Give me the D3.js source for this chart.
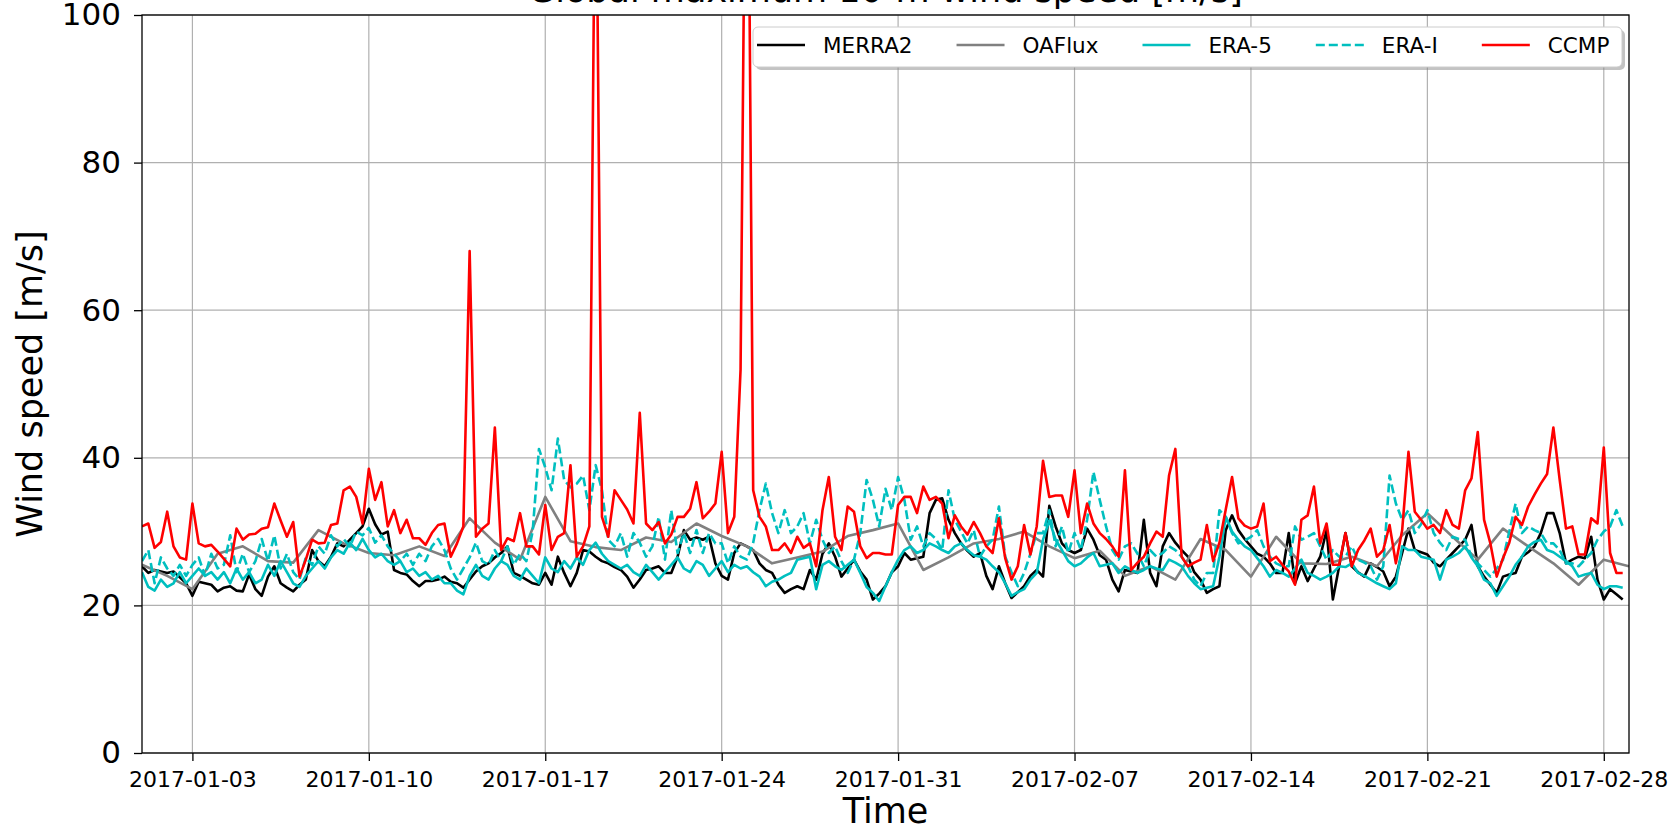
<!DOCTYPE html>
<html>
<head>
<meta charset="utf-8">
<script src="https://cdn.jsdelivr.net/npm/d3@7"></script>
<style>
  body { margin: 0; background: #fff; }
  text { font-family: "DejaVu Sans", sans-serif; fill: #000; }
</style>
</head>
<body>
<script>
// 6-hourly series, starting 2017-01-01 00:00 UTC (one row = one day)
const merra2 = [
  25.3, 24.4, 24.8, 24.6,  24.4, 24.6, 23.8, 23.0,  21.3, 23.2, 23.0, 22.8,  21.9, 22.4, 22.6, 22.0,
  21.9, 24.2, 22.2, 21.3,  23.9, 25.3, 23.0, 22.4,  21.9, 22.8, 23.5, 27.5,  26.0, 25.3, 26.6, 28.4,
  28.0, 28.9, 29.8, 30.7,  33.1, 31.0, 29.6, 30.0,  24.8, 24.4, 24.2, 23.3,  22.6, 23.3, 23.3, 23.5,
  23.9, 23.2, 23.0, 22.4,  23.5, 24.6, 25.3, 25.7,  26.5, 27.1, 28.0, 24.4,  24.0, 23.5, 23.0, 22.8,
  24.4, 22.8, 26.6, 24.4,  22.6, 24.4, 27.5, 27.3,  26.6, 26.0, 25.7, 25.2,  24.8, 23.9, 22.4, 23.5,
  24.8, 25.0, 25.3, 24.4,  24.4, 26.6, 30.2, 28.9,  29.2, 28.9, 29.3, 25.7,  24.0, 23.5, 27.1, 28.4,
  28.0, 27.5, 25.7, 24.8,  24.4, 22.8, 21.7, 22.2,  22.6, 22.2, 24.8, 23.5,  27.0, 28.4, 26.6, 23.9,
  25.0, 26.2, 24.6, 23.5,  20.8, 21.6, 22.6, 24.5,  25.3, 27.1, 26.2, 26.4,  26.6, 32.5, 34.3, 34.5,
  31.6, 29.8, 28.4, 27.4,  26.6, 27.1, 24.0, 22.2,  25.3, 23.0, 21.0, 21.8,  22.6, 24.0, 24.8, 23.9,
  33.5, 30.7, 28.4, 27.5,  27.1, 27.5, 30.4, 28.9,  26.8, 26.2, 23.5, 21.9,  24.8, 24.6, 24.4, 31.6,
  24.4, 22.6, 28.0, 29.8,  28.5, 27.5, 26.6, 24.5,  23.5, 21.7, 22.2, 22.6,  30.2, 32.2, 30.2, 29.0,
  28.0, 27.0, 26.6, 25.7,  24.4, 24.4, 29.8, 23.0,  25.3, 23.3, 25.0, 26.6,  30.2, 20.8, 25.3, 29.8,
  25.3, 24.5, 23.9, 25.7,  25.2, 24.6, 22.6, 23.9,  27.1, 30.4, 27.5, 27.2,  26.9, 25.8, 25.3, 26.2,
  27.1, 28.0, 28.9, 30.9,  25.3, 23.9, 22.8, 21.7,  23.9, 24.2, 24.4, 26.6,  27.2, 28.0, 29.8, 32.5,
  32.5, 29.8, 25.7, 26.2,  26.6, 26.4, 29.3, 23.5,  20.8, 22.2, 21.5, 20.8
];

const era5 = [
  24.5, 22.5, 22.0, 23.5,  22.5, 23.0, 24.5, 23.0,  24.0, 25.0, 24.0, 24.5,  23.5, 24.5, 23.0, 25.0,
  23.5, 24.5, 23.0, 23.5,  25.5, 24.0, 26.0, 24.5,  23.0, 22.5, 24.0, 25.0,  26.0, 25.0, 26.5, 27.5,
  27.0, 28.5, 27.5, 29.0,  27.5, 26.5, 27.0, 26.0,  25.5, 26.0, 24.5, 25.0,  24.0, 24.5, 23.5, 24.0,
  23.0, 23.0, 22.0, 21.5,  24.0, 25.5, 24.0, 23.5,  25.0, 26.0, 25.5, 24.0,  23.5, 25.0, 24.0, 23.0,
  26.5, 25.0, 24.5, 26.0,  25.0, 26.5, 25.5, 27.5,  28.5, 27.0, 26.0, 25.5,  25.0, 25.5, 24.5, 24.0,
  25.5, 24.5, 23.5, 24.5,  25.5, 26.5, 25.0, 24.5,  26.0, 25.5, 24.0, 25.0,  26.0, 24.5, 25.5, 25.0,
  25.3, 24.5, 23.9, 22.6,  23.2, 23.5, 24.0, 24.4,  26.2, 26.4, 26.6, 22.2,  25.5, 26.0, 25.3, 24.8,
  25.5, 26.2, 24.4, 22.5,  21.7, 20.6, 22.6, 24.5,  26.2, 27.5, 28.0, 27.1,  27.5, 28.4, 28.0, 27.5,
  27.1, 28.0, 28.4, 27.5,  26.8, 26.6, 26.2, 25.3,  24.5, 23.0, 21.3, 21.8,  22.2, 23.5, 24.4, 28.9,
  31.5, 28.9, 27.5, 26.0,  25.3, 25.7, 26.5, 27.1,  25.3, 25.5, 25.7, 24.4,  25.3, 24.8, 24.4, 24.8,
  25.3, 25.0, 24.8, 26.2,  25.8, 25.3, 24.0, 23.0,  22.2, 22.4, 22.6, 26.6,  32.0, 30.0, 28.9, 28.0,
  27.5, 26.4, 25.3, 23.9,  24.8, 24.4, 23.9, 25.0,  26.2, 24.4, 24.0, 23.5,  23.9, 24.4, 25.3, 25.2,
  25.7, 24.4, 24.0, 23.5,  23.0, 22.6, 22.2, 23.0,  28.0, 27.5, 27.5, 26.6,  26.4, 26.2, 23.5, 26.2,
  26.6, 27.1, 28.0, 26.5,  25.3, 23.5, 23.0, 21.3,  22.6, 23.9, 25.5, 26.6,  28.0, 28.6, 28.9, 27.5,
  27.2, 26.6, 26.0, 25.3,  23.9, 24.2, 24.4, 22.8,  22.2, 22.6, 22.6, 22.4
];

const eraI = [
  26.0, 27.5, 23.0, 26.5,  25.0, 24.0, 25.5, 24.0,  25.5, 26.5, 24.0, 27.0,  25.0, 25.5, 29.5, 24.5,
  27.0, 24.5, 26.0, 29.0,  26.0, 29.5, 25.0, 27.0,  24.5, 23.5, 26.5, 25.5,  28.0, 27.0, 29.5, 28.0,
  29.0, 28.0, 30.0, 29.5,  30.5, 28.5, 29.5, 28.0,  27.0, 26.0, 27.0, 25.5,  27.0, 26.0, 28.0, 29.0,
  27.5, 25.0, 23.5, 25.0,  26.5, 28.5, 26.0, 25.5,  27.5, 26.0, 28.0, 25.5,  27.0, 26.0, 30.0, 41.2,
  38.7, 35.6, 42.6, 37.0,  36.0, 36.5, 37.6, 32.9,  39.0, 35.6, 28.9, 28.0,  29.8, 26.6, 29.8, 28.5,
  26.6, 28.0, 32.0, 26.2,  32.9, 27.1, 29.8, 27.1,  30.2, 27.1, 29.8, 28.4,  28.4, 25.7, 28.0, 26.6,
  26.2, 28.5, 32.9, 36.5,  32.5, 29.8, 32.9, 29.8,  30.7, 32.5, 28.4, 31.6,  28.9, 27.1, 28.0, 26.0,
  24.4, 26.2, 29.8, 37.0,  34.3, 30.7, 35.8, 32.9,  37.4, 34.3, 28.9, 30.7,  28.0, 29.8, 29.0, 27.5,
  35.6, 31.6, 30.0, 28.4,  30.2, 26.6, 28.0, 28.9,  33.4, 26.6, 24.5, 22.6,  24.4, 27.0, 29.8, 29.8,
  32.9, 28.0, 30.7, 27.1,  29.8, 27.5, 31.6, 38.1,  34.3, 30.7, 27.5, 26.2,  28.0, 28.4, 27.0, 25.3,
  27.5, 26.6, 27.1, 28.0,  27.5, 26.6, 25.3, 23.5,  22.6, 24.4, 24.4, 32.9,  32.0, 29.8, 28.4, 28.8,
  29.3, 30.2, 28.0, 26.6,  25.7, 25.3, 25.3, 30.7,  28.9, 29.3, 29.8, 28.0,  26.2, 27.5, 26.6, 26.6,
  28.0, 26.2, 25.8, 25.3,  23.5, 25.3, 37.6, 33.8,  31.6, 32.9, 29.8, 31.0,  32.9, 29.8, 28.5, 27.5,
  29.3, 29.0, 28.9, 26.6,  25.7, 24.8, 23.9, 25.0,  26.2, 30.0, 33.8, 29.8,  30.7, 30.2, 29.8, 28.4,
  28.4, 27.5, 25.7, 25.7,  25.3, 26.2, 27.1, 28.9,  30.0, 30.7, 32.9, 30.7
];

const ccmp = [
  30.7, 31.1, 27.8, 28.6,  32.7, 28.0, 26.5, 26.2,  33.8, 28.4, 28.0, 28.2,  27.3, 26.3, 25.3, 30.4,
  28.9, 29.6, 29.7, 30.4,  30.6, 33.8, 31.5, 29.3,  31.3, 23.9, 26.2, 28.9,  28.4, 28.5, 30.9, 31.1,
  35.6, 36.1, 34.7, 31.1,  38.5, 34.3, 36.7, 30.7,  32.9, 29.8, 31.6, 29.1,  29.1, 28.2, 29.8, 30.9,
  31.1, 26.6, 28.4, 30.7,  68.0, 29.3, 30.4, 31.1,  44.1, 27.5, 29.1, 28.7,  32.5, 28.0, 28.0, 26.9,
  33.6, 27.5, 29.3, 29.8,  39.0, 26.6, 28.0, 30.7,  130,  32.0, 29.3, 35.6,  34.3, 33.0, 31.1, 46.1,
  31.1, 30.2, 31.3, 28.4,  29.6, 32.0, 32.0, 33.1,  36.7, 31.8, 32.7, 33.8,  40.8, 29.8, 32.0, 52.0,
  150,  35.6, 32.0, 30.7,  27.5, 27.5, 28.4, 27.1,  29.3, 27.8, 28.4, 25.3,  32.9, 37.4, 29.3, 27.5,
  33.4, 32.7, 28.0, 26.4,  27.1, 27.1, 26.9, 26.9,  33.6, 34.7, 34.7, 32.5,  36.1, 34.3, 34.7, 33.8,
  29.1, 32.2, 30.7, 29.6,  31.3, 29.8, 28.0, 27.1,  31.8, 26.4, 23.5, 25.3,  30.9, 26.9, 30.7, 39.6,
  34.7, 34.9, 34.9, 32.0,  38.3, 29.8, 33.8, 31.1,  29.8, 29.0, 28.0, 26.6,  38.3, 24.8, 25.8, 26.6,
  28.4, 30.0, 29.3, 37.6,  41.2, 26.6, 25.3, 25.8,  26.2, 30.9, 26.0, 28.5,  33.0, 37.4, 31.8, 30.8,
  30.4, 30.7, 33.8, 26.0,  26.6, 25.5, 24.6, 22.8,  31.6, 32.2, 36.1, 28.4,  31.1, 25.5, 25.5, 29.8,
  25.3, 27.5, 28.8, 30.4,  26.6, 27.5, 30.9, 25.7,  30.2, 40.8, 32.7, 31.6,  30.4, 30.9, 29.8, 32.9,
  30.9, 30.4, 35.6, 37.2,  43.5, 31.6, 28.4, 23.9,  26.4, 28.5, 32.0, 30.9,  33.4, 35.0, 36.5, 37.8,
  44.1, 37.0, 30.4, 30.7,  26.9, 26.9, 31.8, 31.1,  41.4, 27.1, 24.4, 24.4
];

// daily series
const oaflux = [
  25.5, 24.0, 22.2, 27.0, 28.0, 26.0, 25.8, 30.2, 28.4, 27.1,
  26.8, 28.0, 26.7, 31.8, 28.5, 26.2, 34.7, 28.7, 27.9, 27.5,
  29.2, 28.6, 31.1, 29.4, 28.0, 25.7, 26.5, 27.3, 29.4, 30.2,
  31.1, 24.8, 26.5, 28.4, 29.0, 30.0, 28.0, 26.4, 27.4, 24.0,
  25.3, 23.5, 29.0, 27.5, 23.9, 29.3, 25.7, 25.6, 26.6, 25.3,
  29.5, 32.5, 29.3, 26.2, 30.4, 28.0, 25.7, 22.8, 26.2, 25.3
];

const seriesNames = ['MERRA2', 'OAFlux', 'ERA-5', 'ERA-I', 'CCMP'];
const seriesColors = ['#000000', '#808080', '#00bfbf', '#00bfbf', '#ff0000'];
const seriesDash = [null, null, null, '9,4', null];
const yTicks = [0, 20, 40, 60, 80, 100];
const xTickLabels = ['2017-01-03', '2017-01-10', '2017-01-17', '2017-01-24', '2017-01-31',
                     '2017-02-07', '2017-02-14', '2017-02-21', '2017-02-28'];

const W = 1671, H = 828;
const plotLeft = 142, plotRight = 1629, plotTop = 15, plotBottom = 753;

const t0 = Date.UTC(2017, 0, 1);
const HOUR = 3600 * 1000;
const parse = d3.utcParse('%Y-%m-%d');

function toPoints(vals, stepHours) {
    return vals.map((v, i) => ({ t: new Date(t0 + i * stepHours * HOUR), v: v }));
}

const data = [
    toPoints(merra2, 6),
    toPoints(oaflux, 24),
    toPoints(era5, 6),
    toPoints(eraI, 6),
    toPoints(ccmp, 6)
];

const svg = d3.select('body').append('svg')
    .attr('width', W)
    .attr('height', H);

const x = d3.scaleUtc()
    .domain([new Date(t0), new Date(Date.UTC(2017, 2, 1))])
    .range([plotLeft, plotRight]);

const y = d3.scaleLinear()
    .domain([0, 100])
    .range([plotBottom, plotTop]);

svg.append('defs').append('clipPath')
    .attr('id', 'plotclip')
    .append('rect')
    .attr('x', plotLeft).attr('y', plotTop)
    .attr('width', plotRight - plotLeft).attr('height', plotBottom - plotTop);

// grid
const grid = svg.append('g').attr('stroke', '#b0b0b0').attr('stroke-width', 1.2);
grid.selectAll('.gx')
    .data(xTickLabels.map(parse))
    .enter().append('line')
    .attr('x1', d => x(d)).attr('x2', d => x(d))
    .attr('y1', plotTop).attr('y2', plotBottom);
grid.selectAll('.gy')
    .data(yTicks)
    .enter().append('line')
    .attr('x1', plotLeft).attr('x2', plotRight)
    .attr('y1', d => y(d)).attr('y2', d => y(d));

// lines
const line = d3.line()
    .x(d => x(d.t))
    .y(d => y(d.v));

svg.append('g')
    .attr('clip-path', 'url(#plotclip)')
    .selectAll('path')
    .data(data)
    .enter().append('path')
    .attr('d', line)
    .attr('fill', 'none')
    .attr('stroke', (d, i) => seriesColors[i])
    .attr('stroke-width', 2.6)
    .attr('stroke-linejoin', 'round')
    .attr('stroke-dasharray', (d, i) => seriesDash[i]);

// axes
const xAxis = svg.append('g')
    .attr('transform', `translate(0,${plotBottom})`)
    .call(d3.axisBottom(x)
        .tickValues(xTickLabels.map(parse))
        .tickFormat(d3.utcFormat('%Y-%m-%d'))
        .tickSize(8)
        .tickPadding(10));
xAxis.selectAll('text').style('font-size', '22px');

const yAxis = svg.append('g')
    .attr('transform', `translate(${plotLeft},0)`)
    .call(d3.axisLeft(y)
        .tickValues(yTicks)
        .tickSize(8)
        .tickPadding(13));
yAxis.selectAll('text').style('font-size', '31px');

svg.selectAll('.domain').remove();
svg.selectAll('.tick line').attr('stroke', '#000').attr('stroke-width', 1.3);
svg.selectAll('.tick text').attr('fill', '#000').style('font-family', '"DejaVu Sans", sans-serif');

// frame
svg.append('rect')
    .attr('x', plotLeft).attr('y', plotTop)
    .attr('width', plotRight - plotLeft).attr('height', plotBottom - plotTop)
    .attr('fill', 'none')
    .attr('stroke', '#000')
    .attr('stroke-width', 1.3);

// labels
svg.append('text')
    .attr('x', (plotLeft + plotRight) / 2)
    .attr('y', 823)
    .attr('text-anchor', 'middle')
    .style('font-size', '35px')
    .text('Time');

svg.append('text')
    .attr('transform', `translate(42,${(plotTop + plotBottom) / 2}) rotate(-90)`)
    .attr('text-anchor', 'middle')
    .style('font-size', '35px')
    .text('Wind speed [m/s]');

svg.append('text')
    .attr('x', (plotLeft + plotRight) / 2)
    .attr('y', 2)
    .attr('text-anchor', 'middle')
    .style('font-size', '35px')
    .text('Global maximum 10-m wind speed [m/s]');

// legend
const legend = svg.append('g');
const lgX = 753, lgY = 27, lgW = 869, lgH = 40;
legend.append('rect')
    .attr('x', lgX + 3).attr('y', lgY + 3)
    .attr('width', lgW).attr('height', lgH)
    .attr('rx', 5)
    .attr('fill', '#888').attr('opacity', 0.5);
legend.append('rect')
    .attr('x', lgX).attr('y', lgY)
    .attr('width', lgW).attr('height', lgH)
    .attr('rx', 5)
    .attr('fill', '#fff')
    .attr('stroke', '#cccccc')
    .attr('stroke-width', 1);

let cx = 757;
const cy = lgY + 18;
seriesNames.forEach((name, i) => {
    legend.append('line')
        .attr('x1', cx).attr('x2', cx + 48)
        .attr('y1', cy).attr('y2', cy)
        .attr('stroke', seriesColors[i])
        .attr('stroke-width', 2.6)
        .attr('stroke-dasharray', seriesDash[i]);
    const t = legend.append('text')
        .attr('x', cx + 66)
        .attr('y', cy)
        .attr('dy', '0.36em')
        .style('font-size', '21.5px')
        .text(name);
    cx += 66 + t.node().getComputedTextLength() + 44;
});
</script>
</body>
</html>
